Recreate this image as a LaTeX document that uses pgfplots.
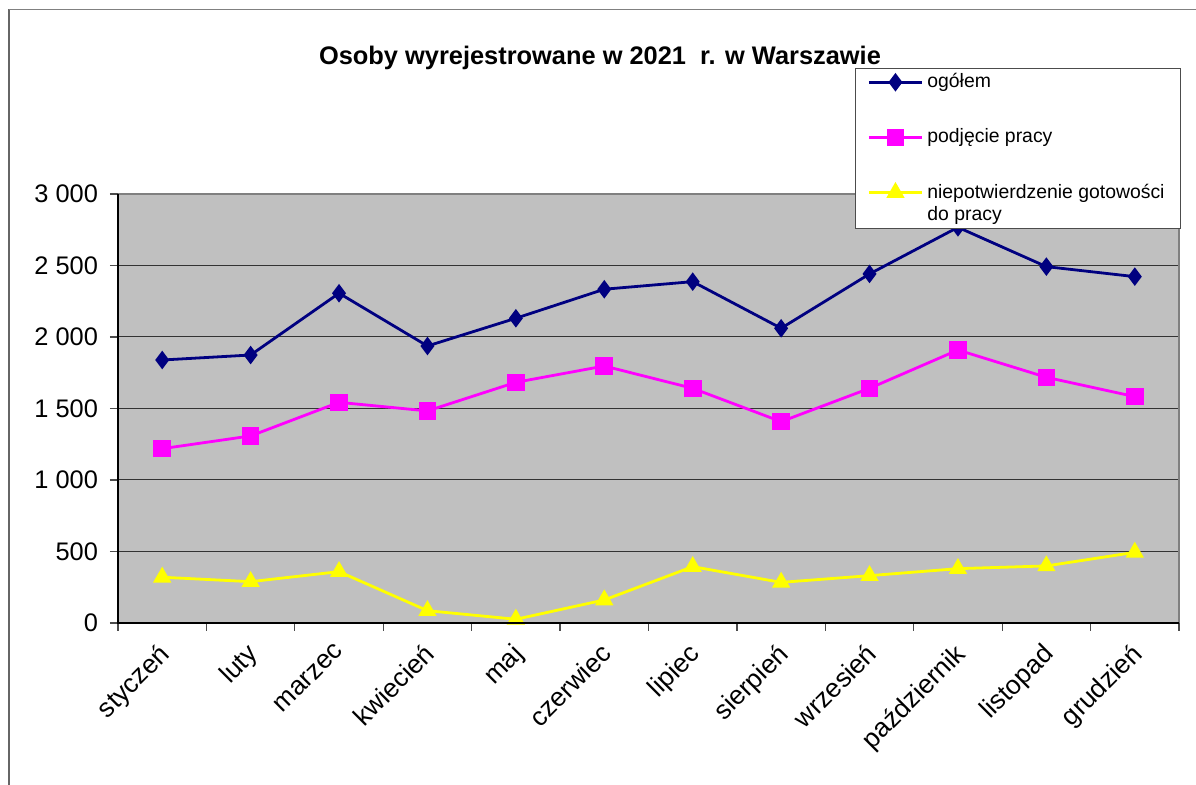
\documentclass[border=0pt]{standalone}
\usepackage{fontspec}
\setmainfont{Liberation Sans}
\usepackage{pgfplots}
\usepackage{pgfplotstable}
\pgfplotsset{compat=1.18}
\definecolor{bgray}{RGB}{192,192,192}
\definecolor{navyx}{RGB}{0,0,128}
\definecolor{magx}{RGB}{255,0,255}
\definecolor{yelx}{RGB}{255,255,0}
\definecolor{frameg}{RGB}{128,128,128}
\pgfplotsset{
  plainlegend/.style={legend image code/.code={\draw[mark repeat=2,mark phase=2,##1] plot coordinates {(0pt,0pt) (13.25pt,0pt) (26.5pt,0pt)};}},
  raisedlegend/.style={legend image code/.code={\draw[mark repeat=2,mark phase=2,##1] plot coordinates {(0pt,5.5pt) (13.25pt,5.5pt) (26.5pt,5.5pt)};}},
}

\pgfplotstableread{
x ogol podj niep
0  1839 1219 320
1  1874 1308 289
2  2306 1543 359
3  1937 1483 86
4  2131 1683 26
5  2334 1797 161
6  2387 1641 394
7  2061 1408 284
8  2441 1641 331
9  2767 1909 380
10 2492 1718 399
11 2422 1583 494
}\datatable

\begin{document}
\begin{tikzpicture}
\useasboundingbox (0,0) rectangle (598pt,392.5pt);
\draw[black!60, line width=0.9pt] (4.5pt,0) -- (4.5pt,387.75pt);
\draw[frameg, line width=0.9pt] (4.5pt,387.75pt) -- (598pt,387.75pt);
\node[font=\bfseries\fontsize{12.7}{15}\selectfont] at (300pt,363.5pt) {Osoby wyrejestrowane w 2021\ \ r. w Warszawie};
\begin{axis}[
  at={(59pt,81pt)}, anchor=south west,
  width=530.5pt, height=214.5pt, scale only axis,
  xmin=-0.5, xmax=11.5, ymin=0, ymax=3000,
  clip=false,
  axis background/.style={fill=bgray},
  axis line style={draw=none},
  tick pos=left,
  xtick={0,...,11},
  xticklabels={styczeń,luty,marzec,kwiecień,maj,czerwiec,lipiec,sierpień,wrzesień,październik,listopad,grudzień},
  minor xtick={-0.5,0.5,...,11.5},
  major x tick style={draw=none},
  minor x tick style={black!70, line width=0.6pt},
  y tick style={black!70, line width=0.6pt},
  tick align=outside,
  major tick length=4pt, minor tick length=4pt,
  ytick={0,500,...,3000},
  ymajorgrids,
  major grid style={black!80, line width=0.5pt},
  /pgf/number format/.cd, 1000 sep={\ }, assume math mode=true,
  /pgfplots/.cd,
  yticklabel style={font=\fontsize{12.7}{14}\selectfont, xshift=-2.5pt},
  xticklabel style={font=\fontsize{13.2}{15}\selectfont, xshift=-2.5pt, yshift=-0.5pt, rotate=45, anchor=north east},
  plainlegend,
  legend style={at={(0.6946,1.2937)}, anchor=north west, draw=black!70, line width=0.6pt, fill=white,
    font=\fontsize{9.7}{11}\selectfont, row sep=15pt, inner xsep=6pt, inner ysep=0.5pt,
    cells={anchor=west, align=left}},
  legend cell align=left,
  after end axis/.code={
    \draw[frameg, line width=1pt] (rel axis cs:0,1) -- (rel axis cs:1,1) -- (rel axis cs:1,0);
    \draw[black, line width=1pt] (rel axis cs:0,1) -- (rel axis cs:0,0) -- (rel axis cs:1,0);
  },
]
\addplot[navyx, line width=1.4pt, mark=diamond*, mark size=3.5pt, mark options={solid}] table[x=x,y=ogol] {\datatable};
\addlegendentry{ogółem}
\addplot[magx, line width=1.4pt, mark=square*, mark size=3.7pt] table[x=x,y=podj] {\datatable};
\addlegendentry{podjęcie pracy}
\addplot[yelx, line width=1.4pt, mark=triangle*, mark size=3.9pt, raisedlegend] table[x=x,y=niep] {\datatable};
\addlegendentry{niepotwierdzenie gotowości\\do pracy}
\end{axis}
\end{tikzpicture}
\end{document}
